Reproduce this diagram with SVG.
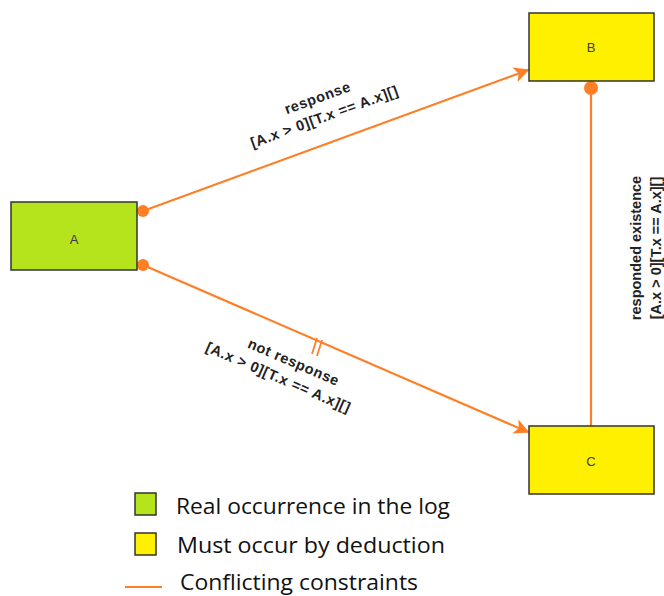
<svg xmlns="http://www.w3.org/2000/svg" width="664" height="596" viewBox="0 0 664 596">
<defs>
<style>
.node{stroke:#333;stroke-width:1.5}
.green{fill:#b5e31c}
.yellow{fill:#fff000}
.nl{font-family:"Liberation Sans",Arial,sans-serif;font-size:13px;fill:#3a3a50;text-anchor:middle}
.edge{stroke:#ff7f27;stroke-width:2.2;fill:none}
.dot{fill:#ff7f27}
.el{font-family:"Liberation Sans",Arial,sans-serif;font-size:14.5px;font-weight:bold;fill:#222;text-anchor:middle;letter-spacing:0.6px}
.vl{letter-spacing:0}
.lg{font-family:"Open Sans","Liberation Sans",sans-serif;font-size:22px;fill:#111}
</style>
<marker id="arr" viewBox="0 0 10 10" refX="9" refY="5" markerWidth="7" markerHeight="7" markerUnits="strokeWidth" orient="auto">
<path d="M0,0 L10,5 L0,10 L2.5,5 Z" fill="#ff7f27"/>
</marker>
</defs>
<rect width="664" height="596" fill="#fff"/>
<g id="connectors">
<line class="edge" x1="143" y1="211" x2="528" y2="70" marker-end="url(#arr)"/>
<circle class="dot" cx="143" cy="211" r="6"/>
<line class="edge" x1="143" y1="265" x2="528" y2="432" marker-end="url(#arr)"/>
<circle class="dot" cx="143" cy="265" r="6"/>
<line class="edge" x1="317" y1="338" x2="312" y2="354" style="stroke-width:1.8"/>
<line class="edge" x1="322" y1="340" x2="317" y2="356" style="stroke-width:1.8"/>
<line class="edge" x1="591" y1="426" x2="591" y2="88"/>
<circle class="dot" cx="591" cy="88" r="7"/>
<g transform="translate(322,110) rotate(-20)">
<text class="el" x="0" y="-8">response</text>
<text class="el" x="0" y="12">[A.x &gt; 0][T.x == A.x][]</text>
</g>
<g transform="translate(282,369) rotate(23.4)">
<text class="el" x="8" y="-6">not response</text>
<text class="el" x="0" y="14">[A.x &gt; 0][T.x == A.x][]</text>
</g>
<g transform="translate(646,248) rotate(-90)">
<text class="el vl" x="0" y="-5">responded existence</text>
<text class="el vl" x="0" y="15">[A.x &gt; 0][T.x == A.x][]</text>
</g>
</g>
<g id="A">
<rect class="node green" x="11" y="202" width="126" height="68"/>
<text class="nl" x="74" y="244">A</text>
</g>
<g id="B">
<rect class="node yellow" x="529" y="13" width="125" height="68"/>
<text class="nl" x="591" y="52">B</text>
</g>
<g id="C">
<rect class="node yellow" x="529" y="426" width="125" height="68"/>
<text class="nl" x="591" y="466">C</text>
</g>
<g id="legend">
<rect class="node green" x="135" y="493" width="21" height="22"/>
<text class="lg" x="176" y="514" textLength="274" lengthAdjust="spacingAndGlyphs">Real occurrence in the log</text>
<rect class="node yellow" x="135" y="533" width="21" height="22"/>
<text class="lg" x="177" y="553" textLength="268" lengthAdjust="spacingAndGlyphs">Must occur by deduction</text>
<line class="edge" x1="125" y1="587" x2="162" y2="587"/>
<text class="lg" x="180" y="590" textLength="238" lengthAdjust="spacingAndGlyphs">Conflicting constraints</text>
</g>
</svg>
